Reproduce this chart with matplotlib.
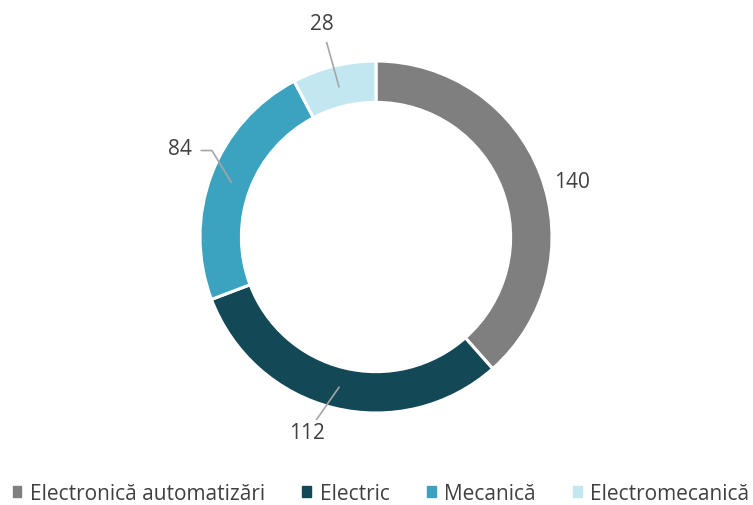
import numpy as np
import matplotlib
matplotlib.use("Agg")
import matplotlib.pyplot as plt

# data
categories = ["Electronică automatizări", "Electric", "Mecanică", "Electromecanică"]
values = [140, 112, 84, 28]
colors = ["#7f7f7f", "#134856", "#3ba3c0", "#c2e7f1"]

# label placement (radius in pie units, angle nudge in degrees, leader line?)
label_r = [1.16, 1.18, 1.22, 1.25]
label_dang = [-5.0, -5.5, -3.5, 0.5]
leader = [False, True, True, True]

plt.rcParams['font.family'] = ['Open Sans', 'DejaVu Sans']

fig = plt.figure(figsize=(7.53, 5.06), dpi=100)
L = 1.4
S = 2 * L * 176
ax = fig.add_axes([(376 - S / 2) / 753, (268 - S / 2) / 506, S / 753, S / 506])

wedges, _ = ax.pie(values, colors=colors, startangle=90, counterclock=False,
                   radius=1.0, wedgeprops=dict(width=0.235, edgecolor="white", linewidth=2.2))
ax.set_xlim(-L, L)
ax.set_ylim(-L, L)
ax.set_aspect("equal")
ax.axis("off")

for i, w in enumerate(wedges):
    mid = (w.theta1 + w.theta2) / 2
    a = np.deg2rad(mid + label_dang[i])
    tx, ty = label_r[i] * np.cos(a), label_r[i] * np.sin(a)
    ax.text(tx, ty, str(values[i]), ha="center", va="center", fontsize=15, color="#404040")
    if leader[i]:
        am = np.deg2rad(mid)
        px, py = 0.88 * np.cos(am), 0.88 * np.sin(am)
        if i == 2:
            # elbow leader
            ex, ey = tx + 0.18, ty - 0.01
            ax.plot([px, ex, ex - 0.06], [py, ey, ey], color="#a6a6a6", lw=1.2)
        else:
            ex = px + (tx - px) * 0.7
            ey = py + (ty - py) * 0.7
            ax.plot([px, ex], [py, ey], color="#a6a6a6", lw=1.2)

handles = [plt.Rectangle((0, 0), 1, 1, color=c) for c in colors]
fig.legend(handles, categories, loc="lower center", bbox_to_anchor=(0.506, -0.035), ncol=4,
           frameon=False, fontsize=15, handlelength=0.42, handleheight=0.42,
           handletextpad=0.4, columnspacing=1.8, labelcolor="#404040")

fig.savefig("out.png", dpi=100)
